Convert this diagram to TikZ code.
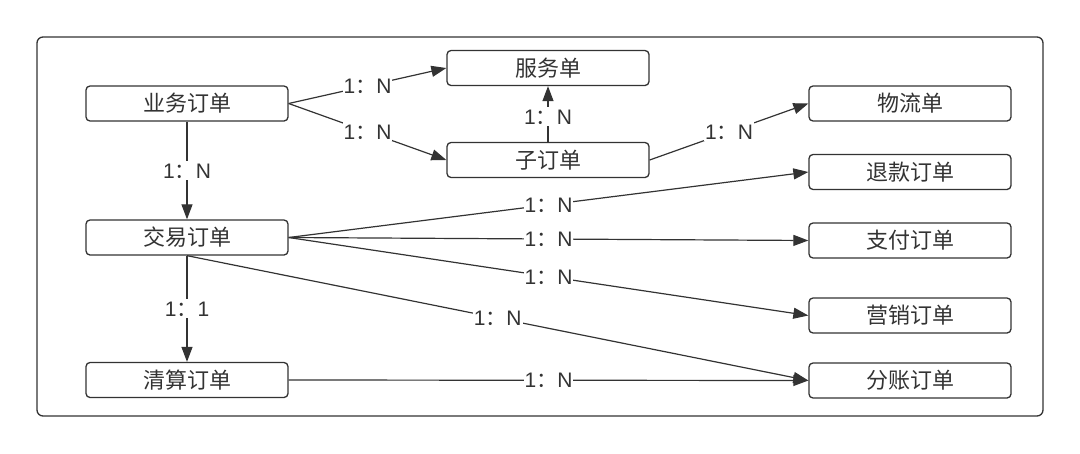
\documentclass[tikz,border=0pt]{standalone}
\usepackage{fontspec}
\setmainfont{Noto Sans CJK SC}
\newfontfamily\latfont{Liberation Sans}
\usetikzlibrary{arrows.meta}
\definecolor{ink}{HTML}{333333}
\newcommand{\myrel}[2]{{\latfont #1}：{\latfont #2}}
\tikzset{
  box/.style={draw=ink, text=ink, rounded corners=4pt, minimum width=202pt, minimum height=35pt, line width=1.3pt, inner sep=0pt, font=\fontsize{22}{22}\selectfont},
  lbl/.style={fill=white, text=ink, inner xsep=1pt, inner ysep=1.5pt, text height=15.5pt, text depth=0.5pt, font=\fontsize{21}{21}\selectfont},
  conn/.style={draw=ink, line width=1.2pt, -{Triangle[length=15pt,width=11pt]}},
  frame/.style={draw=ink, line width=1.3pt, rounded corners=6pt}
}
\begin{document}
\begin{tikzpicture}[x=1pt,y=-1pt]
\useasboundingbox (0,0) rectangle (1080,453);
\draw[frame] (37,37) rectangle (1043,416);
\node[box] (yw) at (187,103.5) {业务订单};
\node[box] (fw) at (548,68) {服务单};
\node[box] (zd) at (548,160) {子订单};
\node[box] (wl) at (910,103.5) {物流单};
\node[box] (tk) at (910,172) {退款订单};
\node[box] (jy) at (187,237.5) {交易订单};
\node[box] (zf) at (910,240.5) {支付订单};
\node[box] (yx) at (910,315.5) {营销订单};
\node[box] (qs) at (187,380) {清算订单};
\node[box] (fz) at (910,380.5) {分账订单};
\draw[conn] (yw.east) -- node[lbl]{\myrel{1}{N}} (fw.west);
\draw[conn] (yw.east) -- node[lbl]{\myrel{1}{N}} (zd.west);
\draw[conn] (yw.south) -- node[lbl]{\myrel{1}{N}} (jy.north);
\draw[conn] (zd.north) -- node[lbl, pos=0.45]{\myrel{1}{N}} (fw.south);
\draw[conn] (zd.east) -- node[lbl]{\myrel{1}{N}} (wl.west);
\draw[conn] (jy.east) -- node[lbl]{\myrel{1}{N}} (tk.west);
\draw[conn] (jy.east) -- node[lbl]{\myrel{1}{N}} (zf.west);
\draw[conn] (jy.east) -- node[lbl]{\myrel{1}{N}} (yx.west);
\draw[conn] (jy.south) -- node[lbl]{\myrel{1}{N}} (fz.west);
\draw[conn] (jy.south) -- node[lbl]{\myrel{1}{1}} (qs.north);
\draw[conn] (qs.east) -- node[lbl]{\myrel{1}{N}} (fz.west);
\end{tikzpicture}
\end{document}
